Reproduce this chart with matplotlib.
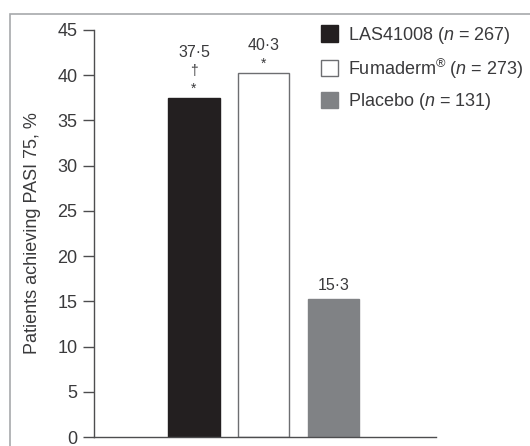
import matplotlib.pyplot as plt
from matplotlib.patches import Rectangle, Patch

plt.rcParams["font.family"] = ["Liberation Sans", "DejaVu Sans"]
plt.rcParams["mathtext.fontset"] = "custom"
plt.rcParams["mathtext.rm"] = "Liberation Sans"
plt.rcParams["mathtext.it"] = "Liberation Sans:italic"

# ── data ─────────────────────────────
groups = ["LAS41008", "Fumaderm", "Placebo"]
legend_labels = ["LAS41008 ($n$ = 267)",
                 "Fumaderm$^{®}$ ($n$ = 273)",
                 "Placebo ($n$ = 131)"]
values = [37.5, 40.3, 15.3]
value_labels = ["37·5", "40·3", "15·3"]
markers = [["*", "†"], ["*"], []]
yticks = [0, 5, 10, 15, 20, 25, 30, 35, 40, 45]

face = ["#231f20", "white", "#808285"]
edge = ["#231f20", "#6d6e71", "#808285"]
axis_col = "#4d4d4f"
text_col = "#3a3a3c"

fig = plt.figure(figsize=(5.30, 4.46), dpi=100)

# outer frame, running off right and bottom edges
fig.patches.append(Rectangle((10 / 530, -0.1), 1.0, (446 - 14) / 446 + 0.1,
                             transform=fig.transFigure, fill=False,
                             edgecolor="#a7a9ac", lw=1.2))

ax = fig.add_axes([94 / 530, 9 / 446, (436 - 94) / 530, (437 - 30) / 446])
x = list(range(len(values)))
ax.bar(x, values, width=0.73, color=face, edgecolor=edge, linewidth=1.0)

for xi, v, lab, mks in zip(x, values, value_labels, markers):
    y = v + 1.0
    for mk in mks:
        ax.text(xi, y, mk, ha="center", va="center", fontsize=10,
                color=text_col)
        y += 2.0
    ax.text(xi, y + (0.0 if mks else 0.5), lab, ha="center", va="center",
            fontsize=11.5, color=text_col)

ax.set_xlim(-1.43, 3.46)
ax.set_ylim(0, 45)
ax.set_yticks(yticks)
ax.set_xticks([])
ax.tick_params(axis="y", direction="out", length=8, width=1.0,
               color=axis_col, labelsize=13, labelcolor=text_col, pad=4)
for s in ["top", "right"]:
    ax.spines[s].set_visible(False)
for s in ["left", "bottom"]:
    ax.spines[s].set_color(axis_col)
    ax.spines[s].set_linewidth(1.0)
ax.set_ylabel("Patients achieving PASI 75, %", fontsize=13, color=text_col,
              labelpad=12)
ax.patch.set_alpha(0)

handles = [Patch(facecolor=f, edgecolor=e, lw=1.0) for f, e in zip(face, edge)]
fig.legend(handles, legend_labels, loc="upper left",
           bbox_to_anchor=(308 / 530, 1 - 12 / 446), frameon=False,
           fontsize=13, handlelength=0.95, handleheight=1.0,
           handletextpad=0.55, labelspacing=0.6, labelcolor=text_col,
           borderpad=0.2)

fig.savefig("out.png", dpi=100)
